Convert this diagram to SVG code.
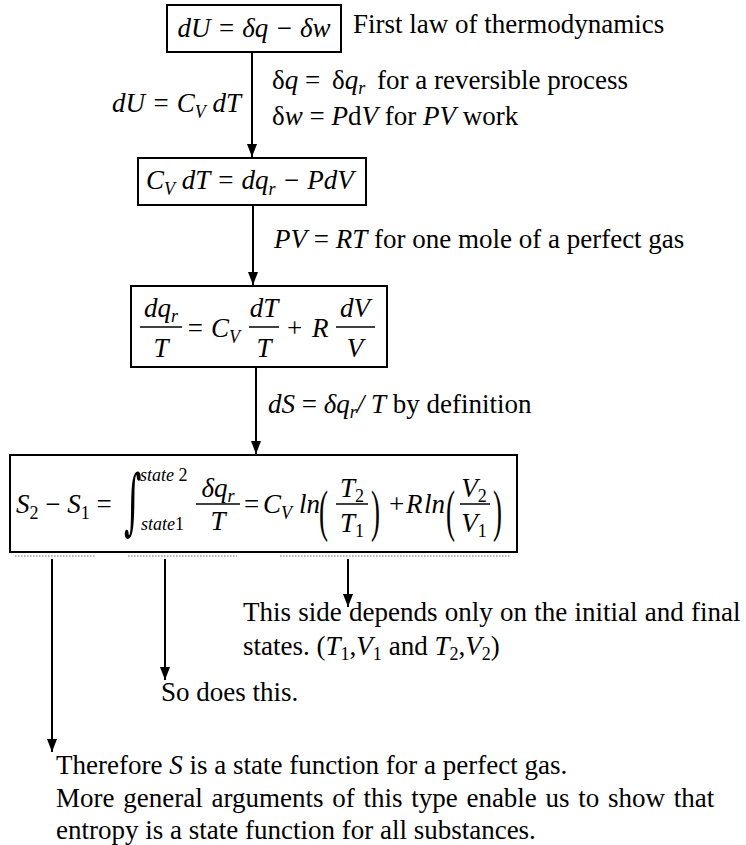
<svg xmlns="http://www.w3.org/2000/svg" width="746" height="845" viewBox="0 0 746 845">
<style>
.t{font-family:"Liberation Serif","Times New Roman",serif;font-size:27px;fill:#000}
.i{font-style:italic}
.s{font-size:18px}
.lim{font-size:18px;font-style:italic}
.box{fill:#fff;stroke:#000;stroke-width:2}
.fr{stroke:#000;stroke-width:1.5}
.con{fill:none;stroke:#000;stroke-width:2}
.dot{fill:none;stroke:#9a9a9a;stroke-width:1.5;stroke-dasharray:1.5 1.5}
</style>
<defs>
<marker id="ah" markerUnits="userSpaceOnUse" markerWidth="14" markerHeight="12" refX="13" refY="5" orient="auto">
<path d="M0,0 L13,5 L0,10 z" fill="#000"/>
</marker>
</defs>
<rect width="746" height="845" fill="#fff"/>

<g id="connectors">
<path class="con" d="M252,52 V157" marker-end="url(#ah)"/>
<path class="con" d="M253,205 V285" marker-end="url(#ah)"/>
<path class="con" d="M256,367 V454" marker-end="url(#ah)"/>
<path class="con" d="M52,559 V752" marker-end="url(#ah)"/>
<path class="con" d="M165,559 V680" marker-end="url(#ah)"/>
<path class="con" d="M348,559 V607" marker-end="url(#ah)"/>
</g>

<g id="labels">
<text class="t" x="353" y="33">First law of thermodynamics</text>
<text class="t i" x="112" y="112">dU = C<tspan class="s" dy="6">V</tspan><tspan dy="-6"> dT</tspan></text>
<text class="t" x="272" y="89">δ<tspan class="i">q</tspan> = <tspan dx="5">δ</tspan><tspan class="i">q</tspan><tspan class="i s" dy="5">r</tspan><tspan dy="-5" dx="5"> for a reversible process</tspan></text>
<text class="t" x="272" y="125">δ<tspan class="i">w</tspan> = <tspan class="i">P</tspan>d<tspan class="i">V</tspan> for <tspan class="i">PV</tspan> work</text>
<text class="t" x="274" y="248"><tspan class="i">PV</tspan> = <tspan class="i">RT</tspan> for one mole of a perfect gas</text>
<text class="t" x="268" y="413"><tspan class="i">dS</tspan> = <tspan class="i">δq</tspan><tspan class="i s" dy="5">r</tspan><tspan class="i" dy="-5">/ T</tspan> by definition</text>
</g>

<g id="node-first-law">
<rect class="box" x="167" y="5" width="174" height="47"/>
<text class="t i" x="254" y="37" text-anchor="middle">dU = δq − δw</text>
</g>

<g id="node-cv">
<rect class="box" x="138" y="158" width="228" height="47"/>
<text class="t i" x="146" y="189">C<tspan class="s" dy="6">V</tspan><tspan dy="-6"> dT = dq</tspan><tspan class="s" dy="6">r</tspan><tspan dy="-6"> − PdV</tspan></text>
</g>

<g id="node-dqT">
<rect class="box" x="131" y="286" width="256" height="81"/>
<text class="t i" x="161" y="317" text-anchor="middle">dq<tspan class="s" dy="5">r</tspan></text>
<line class="fr" x1="140" y1="327" x2="182" y2="327"/>
<text class="t i" x="161" y="357" text-anchor="middle">T</text>
<text class="t i" x="186" y="337">= C<tspan class="s" dy="6">V</tspan></text>
<text class="t i" x="264" y="317" text-anchor="middle">dT</text>
<line class="fr" x1="249" y1="327" x2="279" y2="327"/>
<text class="t i" x="264" y="357" text-anchor="middle">T</text>
<text class="t" x="287" y="337">+</text>
<text class="t i" x="312" y="337">R</text>
<text class="t i" x="355" y="317" text-anchor="middle">dV</text>
<line class="fr" x1="336" y1="327" x2="375" y2="327"/>
<text class="t i" x="355" y="357" text-anchor="middle">V</text>
</g>

<g id="node-entropy">
<rect class="box" x="10" y="455" width="507" height="97"/>
<text class="t i" x="16" y="513">S<tspan class="s" dy="6" font-style="normal">2</tspan><tspan dy="-6" font-style="normal"> − </tspan>S<tspan class="s" dy="6" font-style="normal">1</tspan><tspan dy="-6" font-style="normal"> = </tspan></text>
<text transform="translate(124,526) scale(0.7,1.5)" style="font-family:'DejaVu Serif',serif;font-size:48px">∫</text>
<text class="t lim" x="140" y="481">state <tspan font-style="normal">2</tspan></text>
<text class="t lim" x="141" y="530">state<tspan font-style="normal">1</tspan></text>
<text class="t i" x="218" y="497" text-anchor="middle">δq<tspan class="s" dy="5">r</tspan></text>
<line class="fr" x1="196" y1="504" x2="240" y2="504"/>
<text class="t i" x="218" y="530" text-anchor="middle">T</text>
<text class="t" x="244" y="513">=</text>
<text class="t i" x="263" y="513">C<tspan class="s" dy="6">V</tspan></text>
<text class="t i" x="299" y="513">ln</text>
<text class="t" transform="translate(319,530) scale(1,2.1)" font-size="38px">(</text>
<text class="t i" x="352" y="497" text-anchor="middle">T<tspan class="s" dy="5" font-style="normal">2</tspan></text>
<line class="fr" x1="336" y1="504" x2="368" y2="504"/>
<text class="t i" x="352" y="532" text-anchor="middle">T<tspan class="s" dy="5" font-style="normal">1</tspan></text>
<text class="t" transform="translate(371,530) scale(1,2.1)" font-size="38px">)</text>
<text class="t" x="389" y="513">+</text>
<text class="t i" x="406" y="513">R</text>
<text class="t i" x="424" y="513">ln</text>
<text class="t" transform="translate(446,530) scale(1,2.1)" font-size="38px">(</text>
<text class="t i" x="474" y="497" text-anchor="middle">V<tspan class="s" dy="5" font-style="normal">2</tspan></text>
<line class="fr" x1="460" y1="504" x2="490" y2="504"/>
<text class="t i" x="474" y="532" text-anchor="middle">V<tspan class="s" dy="5" font-style="normal">1</tspan></text>
<text class="t" transform="translate(493,530) scale(1,2.1)" font-size="38px">)</text>
<path class="dot" d="M15,556 H95 M128,556 H237 M280,556 H510"/>
</g>

<g id="notes">
<text class="t" x="243" y="621" style="word-spacing:0.5px">This side depends only on the initial and final</text>
<text class="t" x="243" y="655">states. (<tspan class="i">T</tspan><tspan class="s" dy="5">1</tspan><tspan dy="-5">,</tspan><tspan class="i">V</tspan><tspan class="s" dy="5">1</tspan><tspan dy="-5" dx="7">and </tspan><tspan class="i">T</tspan><tspan class="s" dy="5">2</tspan><tspan dy="-5">,</tspan><tspan class="i">V</tspan><tspan class="s" dy="5">2</tspan><tspan dy="-5">)</tspan></text>
<text class="t" x="161" y="701">So does this.</text>
<text class="t" x="56" y="774">Therefore <tspan class="i">S</tspan> is a state function for a perfect gas.</text>
<text class="t" x="56" y="807" style="word-spacing:2px">More general arguments of this type enable us to show that</text>
<text class="t" x="56" y="839">entropy is a state function for all substances.</text>
</g>
</svg>
